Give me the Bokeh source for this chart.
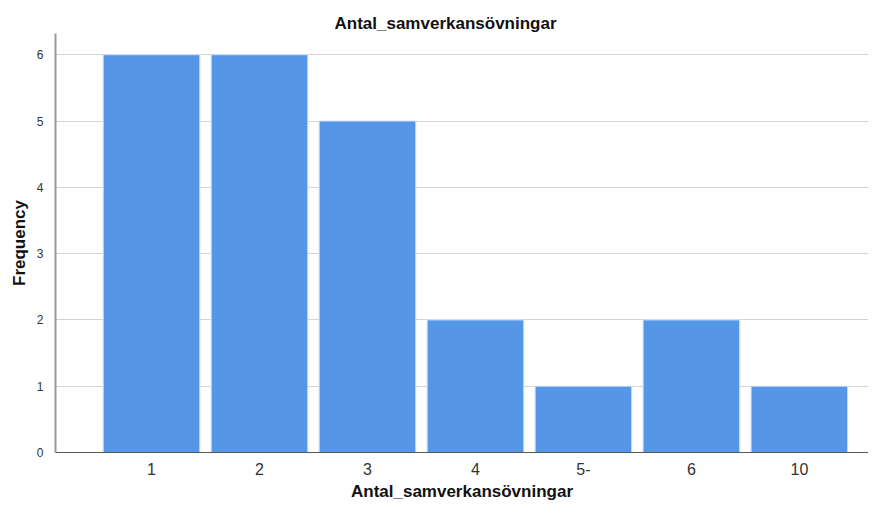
from bokeh.plotting import figure
from bokeh.models import FixedTicker, Range1d, ColumnDataSource
from bokeh.embed import file_html
from bokeh.resources import INLINE

categories = ["1", "2", "3", "4", "5-", "6", "10"]
frequency = [6, 6, 5, 2, 1, 2, 1]
y_ticks = [0, 1, 2, 3, 4, 5, 6]

positions = list(range(1, len(categories) + 1))
src = ColumnDataSource(dict(x=positions, top=frequency))

FONT = "Liberation Sans"

p = figure(width=868, height=503, output_backend="svg", toolbar_location=None,
           x_range=Range1d(0.111, 7.64), y_range=Range1d(0, 6.32),
           min_border_left=55, min_border_right=0, min_border_top=33, min_border_bottom=0,
           outline_line_color=None)

p.vbar(x="x", top="top", width=0.895, bottom=0, source=src,
       fill_color="#5596E6", line_color="#d3e2f6", line_width=1)

p.title.text = "Antal_samverkansövningar"
p.title.align = "left"
p.title.text_font = FONT
p.title.text_font_size = "17px"
p.title.text_font_style = "bold"
p.title.text_color = "#111111"
p.title.offset = 279
p.title.standoff = 2

# x axis
p.xaxis.ticker = FixedTicker(ticks=positions)
p.xaxis.major_label_overrides = {pos: lab for pos, lab in zip(positions, categories)}
p.xaxis.axis_label = "Antal_samverkansövningar"
p.xaxis.axis_label_text_font = FONT
p.xaxis.axis_label_text_font_size = "17px"
p.xaxis.axis_label_text_font_style = "bold"
p.xaxis.axis_label_text_color = "#111111"
p.xaxis.axis_label_standoff = 4
p.xaxis.major_label_text_font = FONT
p.xaxis.major_label_text_font_size = "16px"
p.xaxis.major_label_text_color = "#333333"
p.xaxis.major_label_standoff = 4
p.xaxis.major_tick_line_color = None
p.xaxis.minor_tick_line_color = None
p.xaxis.axis_line_color = "#555555"
p.xaxis.axis_line_width = 1

# y axis
p.yaxis.ticker = FixedTicker(ticks=y_ticks)
p.yaxis.axis_label = "Frequency"
p.yaxis.axis_label_text_font = FONT
p.yaxis.axis_label_text_font_size = "17px"
p.yaxis.axis_label_text_font_style = "bold"
p.yaxis.axis_label_text_color = "#111111"
p.yaxis.axis_label_standoff = 5
p.yaxis.major_label_text_font = FONT
p.yaxis.major_label_text_font_size = "12px"
p.yaxis.major_label_text_color = "#333333"
p.yaxis.major_label_standoff = 6
p.yaxis.major_tick_line_color = None
p.yaxis.minor_tick_line_color = None
p.yaxis.axis_line_color = "#999999"
p.yaxis.axis_line_width = 2

p.xgrid.grid_line_color = None
p.ygrid.grid_line_color = "#d4d4d4"
p.ygrid.grid_line_width = 1

open("out.html", "w").write(file_html(p, INLINE))
